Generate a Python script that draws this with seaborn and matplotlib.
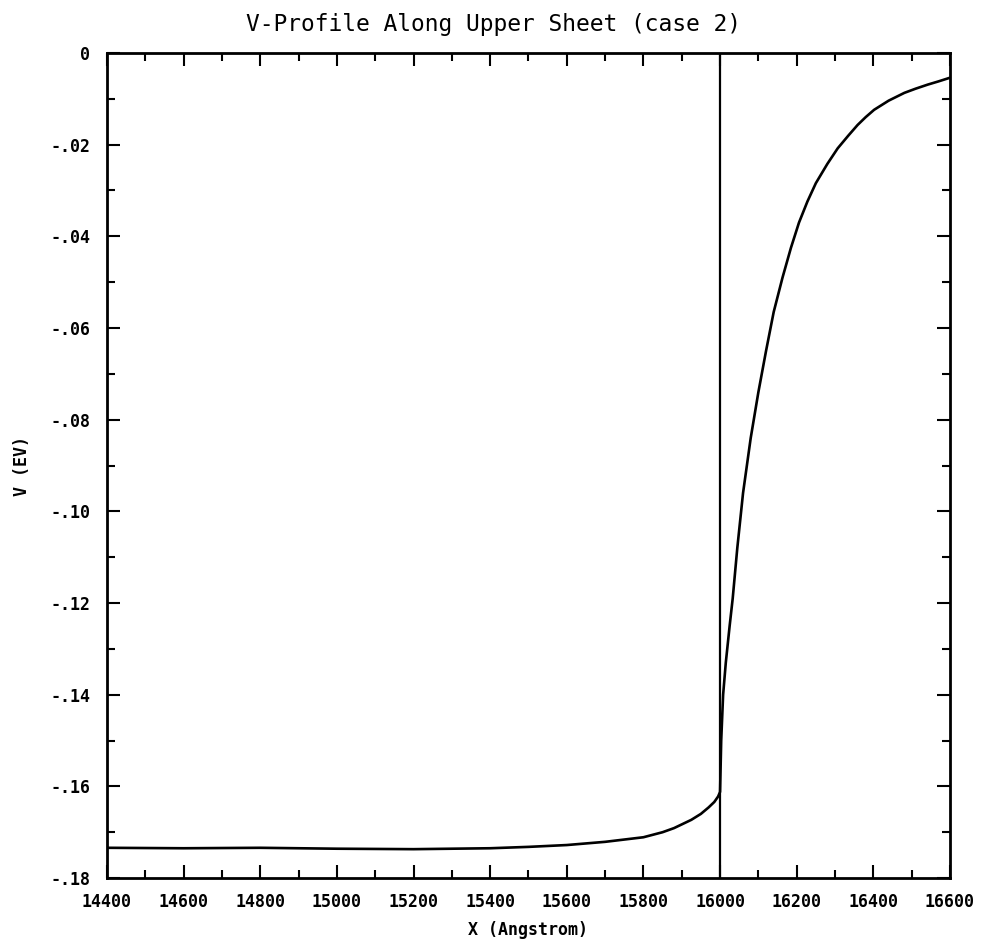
import matplotlib
matplotlib.use("Agg")
import matplotlib.pyplot as plt
from matplotlib.ticker import MultipleLocator
import seaborn as sns
import pandas as pd

# ---- data ----
x_left = [14400, 14600, 14800, 15000, 15200, 15400, 15500, 15600, 15700,
          15800, 15850, 15880, 15900, 15925, 15950, 15970, 15985, 15995, 16000]
v_left = [-0.1734, -0.1735, -0.1734, -0.1736, -0.1737, -0.1735, -0.1732, -0.1728, -0.1721,
          -0.1711, -0.1700, -0.1691, -0.1683, -0.1673, -0.1660, -0.1646, -0.1634, -0.1622, -0.1612]
x_right = [16000, 16003, 16008, 16015, 16025, 16033, 16045, 16060, 16080, 16100,
           16120, 16140, 16163, 16185, 16206, 16228, 16250, 16280, 16307, 16335,
           16359, 16380, 16402, 16440, 16481, 16510, 16542, 16570, 16600]
v_right = [-0.1612, -0.1500, -0.1400, -0.1330, -0.1250, -0.1190, -0.1080, -0.0960, -0.0840, -0.0740,
           -0.0650, -0.0565, -0.0490, -0.0425, -0.0370, -0.0324, -0.0284, -0.0242, -0.0208, -0.0180,
           -0.0157, -0.0140, -0.0124, -0.0104, -0.0087, -0.0078, -0.0069, -0.0062, -0.0054]
boundary_x = 16000

x_ticks = [14400, 14600, 14800, 15000, 15200, 15400, 15600, 15800, 16000, 16200, 16400, 16600]
x_tick_labels = [str(v) for v in x_ticks]
y_ticks = [0, -0.02, -0.04, -0.06, -0.08, -0.10, -0.12, -0.14, -0.16, -0.18]
y_tick_labels = ["0", "-.02", "-.04", "-.06", "-.08", "-.10", "-.12", "-.14", "-.16", "-.18"]

title = "V-Profile Along Upper Sheet (case 2)"
x_label = "X (Angstrom)"
y_label = "V (EV)"

df = pd.DataFrame({"x": x_left + x_right, "v": v_left + v_right})

sns.set_style("ticks")
plt.rcParams["font.family"] = ["DejaVu Sans Mono", "DejaVu Sans"]
plt.rcParams["text.color"] = "black"
plt.rcParams["axes.labelcolor"] = "black"
plt.rcParams["xtick.color"] = "black"
plt.rcParams["ytick.color"] = "black"

fig = plt.figure(figsize=(9.83, 9.41), dpi=100)
ax = fig.add_axes([0.1088, 0.0669, 0.9664 - 0.1088, 0.9437 - 0.0669])

sns.lineplot(data=df, x="x", y="v", ax=ax, color="black", linewidth=1.9,
             estimator=None, sort=False)
ax.axvline(boundary_x, color="black", linewidth=1.6)

ax.set_xlim(14400, 16600)
ax.set_ylim(-0.18, 0)
ax.set_xticks(x_ticks)
ax.set_xticklabels(x_tick_labels, fontsize=12, fontweight="bold", color="black")
ax.set_yticks(y_ticks)
ax.set_yticklabels(y_tick_labels, fontsize=12, fontweight="bold", color="black")
ax.xaxis.set_minor_locator(MultipleLocator(100))
ax.yaxis.set_minor_locator(MultipleLocator(0.01))

ax.tick_params(which="both", direction="in", top=True, right=True, width=1.5, color="black")
ax.tick_params(which="major", length=9.5)
ax.tick_params(which="minor", length=6)
ax.tick_params(axis="x", which="major", pad=11)
ax.tick_params(axis="y", which="major", pad=12)

for s in ax.spines.values():
    s.set_linewidth(2.0)
    s.set_color("black")

ax.set_xlabel(x_label, fontsize=12, fontweight="bold", labelpad=7, color="black")
ax.set_ylabel(y_label, fontsize=12, fontweight="bold", labelpad=14, color="black")
ax.set_title(title, fontsize=16.5, pad=16, x=0.458, color="black")

fig.savefig("out.png", dpi=100, facecolor="white")
